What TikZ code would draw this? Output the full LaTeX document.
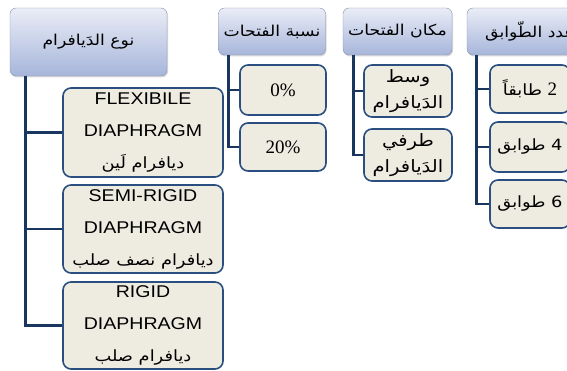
\documentclass[tikz,border=0pt]{standalone}
\usepackage{fontspec}
\setmainfont{Liberation Sans}
\newfontfamily\arabicfont[Script=Arabic,FakeStretch=1.15]{DejaVu Sans}
\newfontfamily\latfont[FakeStretch=1.15]{Liberation Sans}
\newfontfamily\numfont{Liberation Serif}
\TeXXeTstate=1
\usetikzlibrary{shadows}
\definecolor{hdrtop}{RGB}{234,237,247}
\definecolor{hdrbot}{RGB}{166,181,218}
\definecolor{hdrline}{RGB}{135,145,170}
\definecolor{leaffill}{RGB}{238,236,225}
\definecolor{leafline}{RGB}{42,78,128}
\definecolor{connline}{RGB}{24,54,94}
\newcommand{\artxt}[1]{{\arabicfont\beginR #1\endR}}
\newcommand{\arsm}[1]{{\arabicfont\fontsize{15.5}{32}\selectfont\beginR #1\endR}}
\begin{document}
\begin{tikzpicture}[x=1pt,y=-1pt,
	hdr/.style={draw=hdrline,rounded corners=6pt,top color=hdrtop,bottom color=hdrbot,inner sep=0pt,
		font=\fontsize{15}{18}\selectfont,drop shadow={opacity=0.3,shadow xshift=1pt,shadow yshift=-1.5pt}},
	leaf/.style={draw=leafline,line width=1.6pt,rounded corners=8pt,fill=leaffill,inner sep=0pt,align=center},
	conn/.style={draw=connline,line width=2.8pt}]
	\useasboundingbox (0,0) rectangle (567,371);
	\clip (0,0) rectangle (567,371);
	
	% headers
	\node[hdr,minimum width=157pt,minimum height=68pt] (typ) at (88.5,42) {\artxt{نوع الدَيافرام}};
	\node[hdr,minimum width=107pt,minimum height=47pt] (ratio) at (272,31.5) {\artxt{نسبة الفتحات}};
	\node[hdr,minimum width=109pt,minimum height=47pt] (place) at (397.5,31.5) {\artxt{مكان الفتحات}};
	\node[hdr,minimum width=126pt,minimum height=47pt] (floors) at (530,31.5) {\artxt{عدد الطّوابق}};
	
	% diaphragm types
	\node[leaf,font=\latfont\fontsize{17}{32}\selectfont,minimum width=160pt,minimum height=89pt] (flex) at (143,132.5)
		{FLEXIBILE\\DIAPHRAGM\\\arsm{ديافرام لَين}};
	\node[leaf,font=\latfont\fontsize{17}{32}\selectfont,minimum width=160pt,minimum height=88pt] (semi) at (143,229)
		{SEMI-RIGID\\DIAPHRAGM\\\arsm{ديافرام نصف صلب}};
	\node[leaf,font=\latfont\fontsize{17}{32}\selectfont,minimum width=160pt,minimum height=87pt] (rigid) at (143,325.5)
		{RIGID\\DIAPHRAGM\\\arsm{ديافرام صلب}};
	\draw[conn] ([xshift=16pt]typ.south west) |- (flex.west);
	\draw[conn] ([xshift=16pt]typ.south west) |- (semi.west);
	\draw[conn] ([xshift=16pt]typ.south west) |- (rigid.west);
	
	% openings ratio
	\node[leaf,font=\numfont\fontsize{19}{22}\selectfont,minimum width=86pt,minimum height=50pt] (zero) at (283,90) {0\%};
	\node[leaf,font=\numfont\fontsize{19}{22}\selectfont,minimum width=86pt,minimum height=48pt] (twenty) at (283,147) {20\%};
	\draw[conn] ([xshift=10pt]ratio.south west) |- (zero.west);
	\draw[conn] ([xshift=10pt]ratio.south west) |- (twenty.west);
	
	% openings place
	\node[leaf,font=\fontsize{17}{26}\selectfont,minimum width=88pt,minimum height=52pt] (mid) at (408,91)
		{\artxt{وسط}\\\artxt{الدَيافرام}};
	\node[leaf,font=\fontsize{17}{26}\selectfont,minimum width=88pt,minimum height=52pt] (edge) at (408,155)
		{\artxt{طرفي}\\\artxt{الدَيافرام}};
	\draw[conn] ([xshift=11pt]place.south west) |- (mid.west);
	\draw[conn] ([xshift=11pt]place.south west) |- (edge.west);
	
	% number of floors
	\node[leaf,font=\fontsize{15.5}{18}\selectfont,minimum width=80pt,minimum height=48pt] (two) at (530,89)
		{\artxt{{\numfont\fontsize{19}{18}\selectfont 2} طابقاً}};
	\node[leaf,font=\fontsize{15.5}{18}\selectfont,minimum width=80pt,minimum height=50pt] (four) at (530,147)
		{\artxt{4 طوابق}};
	\node[leaf,font=\fontsize{15.5}{18}\selectfont,minimum width=80pt,minimum height=48pt] (six) at (530,204)
		{\artxt{6 طوابق}};
	\draw[conn] ([xshift=10pt]floors.south west) |- (two.west);
	\draw[conn] ([xshift=10pt]floors.south west) |- (four.west);
	\draw[conn] ([xshift=10pt]floors.south west) |- (six.west);
\end{tikzpicture}
\end{document}
